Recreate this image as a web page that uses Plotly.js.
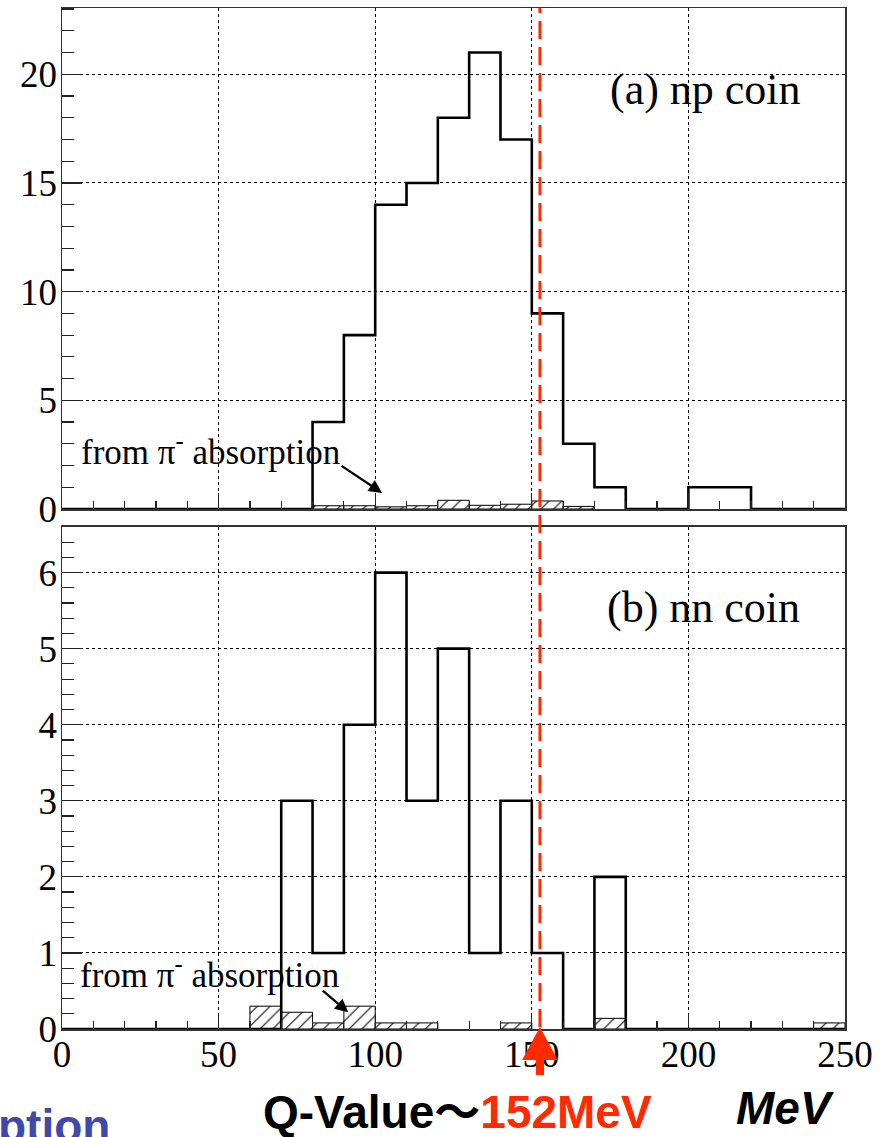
<!DOCTYPE html>
<html><head><meta charset="utf-8">
<script src="https://cdn.plot.ly/plotly-3.0.1.min.js"></script>
<style>html,body{margin:0;padding:0;background:#fff}#chart{width:890px;height:1137px}</style>
</head><body><div id="chart"></div>
<script>
// ---- data ----
const binWidth = 10;
const binLow = [0,10,20,30,40,50,60,70,80,90,100,110,120,130,140,150,160,170,180,190,200,210,220,230,240];
const npCounts = [0,0,0,0,0,0,0,0,4,8,14,15,18,21,17,9,3,1,0,0,1,1,0,0,0];
const nnCounts = [0,0,0,0,0,0,0,3,1,4,6,3,5,1,3,1,0,2,0,0,0,0,0,0,0];
const npAbsCenters = [85,95,105,115,125,135,145,155,165];
const npAbsCounts  = [0.15,0.15,0.1,0.15,0.4,0.17,0.22,0.37,0.12];
const nnAbsCenters = [65,75,85,95,105,115,145,175,245];
const nnAbsCounts  = [0.3,0.22,0.08,0.3,0.08,0.08,0.08,0.14,0.08];
const xTickVals = [0,50,100,150,200,250];
const xTickText = ['0','50','100','150','200','250'];
const qValue = 152.6;
const panelLabels = ['(a) np coin','(b) nn coin'];
const absorptionLabel = 'from \u03c0<sup>-</sup> absorption';

// ---- helpers ----
const edges = binLow.concat([binLow[binLow.length-1] + binWidth]);
function stepTrace(counts, xa, ya){
  return {type:'scatter', mode:'lines', x:edges, y:counts.concat([counts[counts.length-1]]),
    line:{shape:'hv', color:'#000', width:2.6}, xaxis:xa, yaxis:ya, hoverinfo:'skip', cliponaxis:false};
}
function hatchTrace(centers, counts, xa, ya){
  return {type:'bar', x:centers, y:counts, width:binWidth, xaxis:xa, yaxis:ya,
    marker:{color:'#fff', line:{color:'#000', width:1},
      pattern:{shape:'/', fgcolor:'#000', bgcolor:'#fff', size:9, solidity:0.12}},
    hoverinfo:'skip'};
}

const serif = 'Liberation Serif, Times New Roman, serif';
const frameCol = '#333';
function xAxis(anchor, showLabels){
  return {anchor:anchor, domain:[0,1], range:[0,250], tickmode:'array', tickvals:xTickVals, ticktext:xTickText,
    showticklabels:showLabels, ticks:'inside', ticklen:16, tickwidth:1.2, tickcolor:'#222',
    tickfont:{family:serif, size:37, color:'#000'}, ticklabelstandoff:-8,
    showgrid:true, gridcolor:'#000', griddash:'dot', gridwidth:1,
    showline:true, linecolor:frameCol, linewidth:1.5, mirror:true, zeroline:false,
    minor:{tickmode:'linear', tick0:0, dtick:10, ticks:'inside', ticklen:8, tickwidth:1.2, tickcolor:'#222', showgrid:false}};
}
function yAxis(anchor, domain, range, dtick, mdtick){
  return {anchor:anchor, domain:domain, range:range, tickmode:'linear', tick0:0, dtick:dtick,
    ticks:'inside', ticklen:20, tickwidth:1.2, tickcolor:'#222',
    tickfont:{family:serif, size:37, color:'#000'}, ticklabelstandoff:-4,
    showgrid:true, gridcolor:'#000', griddash:'dot', gridwidth:1,
    showline:true, linecolor:frameCol, linewidth:1.5, mirror:true, zeroline:false,
    minor:{tickmode:'linear', tick0:0, dtick:mdtick, ticks:'inside', ticklen:12, tickwidth:1.2, tickcolor:'#222', showgrid:false}};
}

const data = [
  hatchTrace(npAbsCenters, npAbsCounts, 'x', 'y'),
  hatchTrace(nnAbsCenters, nnAbsCounts, 'x2', 'y2'),
  stepTrace(npCounts, 'x', 'y'),
  stepTrace(nnCounts, 'x2', 'y2')
];

const red = '#ff2a00';
const layout = {
  width:890, height:1137, margin:{l:62, r:45, t:8, b:108},
  paper_bgcolor:'#fff', plot_bgcolor:'#fff', showlegend:false,
  font:{family:serif, size:34, color:'#000'},
  barmode:'overlay',
  xaxis: xAxis('y', false),
  yaxis: yAxis('x', [0.5093,1], [0,23.05], 5, 1),
  xaxis2: xAxis('y2', true),
  yaxis2: yAxis('x2', [0,0.4917], [0,6.6], 1, 0.2),
  shapes:[
    {type:'line', xref:'x', yref:'paper', x0:qValue, x1:qValue, y0:0.002, y1:1,
     line:{color:red, width:3, dash:'18px,8px'}},
    {type:'path', xref:'x2', yref:'paper', fillcolor:red, line:{width:0},
     path:'M '+qValue+',0.002 L '+(qValue+5.7)+',-0.0304 L '+(qValue+1.3)+',-0.0304 L '+(qValue+1.3)+',-0.045 L '+(qValue-1.3)+',-0.045 L '+(qValue-1.3)+',-0.0304 L '+(qValue-5.7)+',-0.0304 Z'}
  ],
  annotations:[
    {xref:'x', yref:'y', x:205.4, y:19.3, text:panelLabels[0], showarrow:false, xanchor:'center', yanchor:'middle',
     font:{family:serif, size:44, color:'#000'}},
    {xref:'x2', yref:'y2', x:204.7, y:5.54, text:panelLabels[1], showarrow:false, xanchor:'center', yanchor:'middle',
     font:{family:serif, size:44, color:'#000'}},
    {xref:'x', yref:'y', x:5.5, y:2.75, text:absorptionLabel, showarrow:false, xanchor:'left', yanchor:'middle',
     font:{family:serif, size:35, color:'#000'}},
    {xref:'x2', yref:'y2', x:5.0, y:0.74, text:absorptionLabel, showarrow:false, xanchor:'left', yanchor:'middle',
     font:{family:serif, size:35, color:'#000'}},
    {xref:'x', yref:'y', x:102.2, y:0.74, ax:-42, ay:-28, text:'', showarrow:true, arrowhead:2, arrowsize:1.2, arrowwidth:2.2, arrowcolor:'#000'},
    {xref:'x2', yref:'y2', x:91.4, y:0.22, ax:-27, ay:-23, text:'', showarrow:true, arrowhead:2, arrowsize:1.2, arrowwidth:2.2, arrowcolor:'#000'},
    {xref:'paper', yref:'paper', x:0.5045, y:-0.0813, xanchor:'center', yanchor:'middle', showarrow:false,
     text:'<b>Q-Value\uff5e<span style="color:'+red+'">152MeV</span></b>',
     font:{family:'Liberation Sans, Arial, Noto Sans CJK JP, sans-serif', size:46, color:'#000'}},
    {xref:'paper', yref:'paper', x:0.9234, y:-0.0774, xanchor:'center', yanchor:'middle', showarrow:false,
     text:'<b><i>MeV</i></b>', font:{family:'Liberation Sans, Arial, sans-serif', size:46, color:'#000'}},
    {xref:'paper', yref:'paper', x:-0.084, y:-0.095, xanchor:'left', yanchor:'middle', showarrow:false,
     text:'<b>ption</b>', font:{family:'Liberation Sans, Arial, sans-serif', size:46, color:'#4148aa'}}
  ]
};
Plotly.newPlot('chart', data, layout, {staticPlot:true, displayModeBar:false});
</script></body></html>
